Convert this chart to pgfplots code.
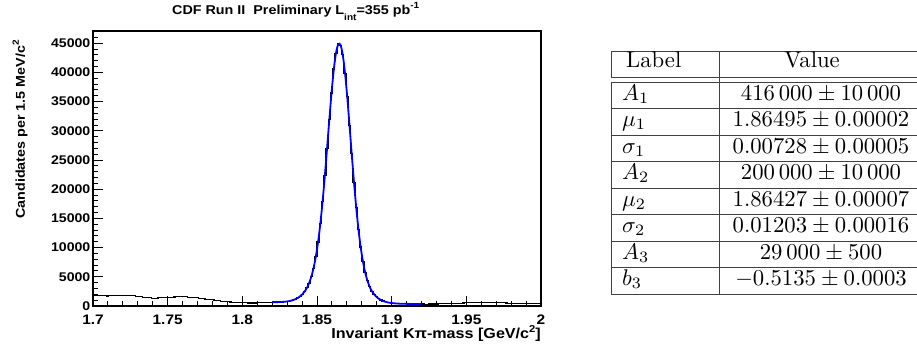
\documentclass[border=0pt]{standalone}
\usepackage{fontspec}
\usepackage{graphicx}
\usepackage{pgfplots}
\pgfplotsset{compat=1.18}
\newfontfamily\rootfont[FakeStretch=1.12]{Liberation Sans}
\newcommand{\tickfont}{\rootfont\bfseries\fontsize{12.6}{14}\selectfont}
\newcommand{\xtickfont}{\rootfont\bfseries\fontsize{13.8}{15}\selectfont}
\newcommand{\titlefont}{\rootfont\bfseries\fontsize{12.8}{14}\selectfont}
\newcommand{\xlabfont}{\rootfont\bfseries\fontsize{14.4}{16}\selectfont}
\newcommand{\ylabfont}{\rootfont\bfseries\fontsize{12.8}{15}\selectfont}
\newcommand{\tb}[1]{\scalebox{2.27}{#1}}

\pgfplotstableread{
x y
1.7000 1780
1.7015 1760
1.7030 1770
1.7045 1750
1.7060 1740
1.7075 1730
1.7090 1720
1.7105 1740
1.7120 1760
1.7135 1790
1.7150 1810
1.7165 1830
1.7180 1850
1.7195 1860
1.7210 1870
1.7225 1850
1.7240 1820
1.7255 1780
1.7270 1730
1.7285 1680
1.7300 1620
1.7315 1560
1.7330 1500
1.7345 1450
1.7360 1410
1.7375 1380
1.7390 1360
1.7405 1350
1.7420 1360
1.7435 1380
1.7450 1400
1.7465 1430
1.7480 1460
1.7495 1490
1.7510 1510
1.7525 1530
1.7540 1540
1.7555 1560
1.7570 1570
1.7585 1580
1.7600 1570
1.7615 1560
1.7630 1530
1.7645 1500
1.7660 1460
1.7675 1420
1.7690 1380
1.7705 1340
1.7720 1290
1.7735 1240
1.7750 1190
1.7765 1140
1.7780 1090
1.7795 1040
1.7810 990
1.7825 940
1.7840 890
1.7855 840
1.7870 790
1.7885 750
1.7900 710
1.7915 680
1.7930 650
1.7945 620
1.7960 600
1.7975 580
1.7990 560
1.8005 540
1.8020 530
1.8035 520
1.8050 510
1.8065 510
1.8080 520
1.8095 530
1.8110 540
1.8125 560
1.8140 580
1.8155 600
1.8170 620
1.8185 640
1.8200 655
1.8215 672
1.8230 660
1.8245 688
1.8260 694
1.8275 735
1.8290 768
1.8305 842
1.8320 915
1.8335 1046
1.8350 1190
1.8365 1412
1.8380 1668
1.8395 2045
1.8410 2490
1.8425 3140
1.8440 3930
1.8455 5080
1.8470 6490
1.8485 8470
1.8500 10960
1.8515 14190
1.8530 17870
1.8545 22330
1.8560 26980
1.8575 31990
1.8590 36480
1.8605 40590
1.8620 43300
1.8635 44880
1.8650 44650
1.8665 43060
1.8680 39850
1.8695 35840
1.8710 30950
1.8725 26100
1.8740 21190
1.8755 16940
1.8770 13110
1.8785 10110
1.8800 7600
1.8815 5750
1.8830 4305
1.8845 3320
1.8860 2530
1.8875 1995
1.8890 1565
1.8905 1270
1.8920 1025
1.8935 862
1.8950 720
1.8965 630
1.8980 550
1.8995 502
1.9010 456
1.9025 433
1.9040 405
1.9055 395
1.9070 378
1.9085 375
1.9100 362
1.9115 361
1.9130 352
1.9145 351
1.9160 344
1.9175 343
1.9190 337
1.9205 335
1.9220 330
1.9235 330
1.9250 335
1.9265 340
1.9280 345
1.9295 350
1.9310 360
1.9325 370
1.9340 380
1.9355 390
1.9370 400
1.9385 415
1.9400 430
1.9415 445
1.9430 460
1.9445 475
1.9460 490
1.9475 510
1.9490 525
1.9505 540
1.9520 555
1.9535 570
1.9550 580
1.9565 590
1.9580 595
1.9595 600
1.9610 600
1.9625 595
1.9640 590
1.9655 580
1.9670 575
1.9685 565
1.9700 555
1.9715 545
1.9730 535
1.9745 525
1.9760 515
1.9775 505
1.9790 495
1.9805 485
1.9820 475
1.9835 465
1.9850 455
1.9865 445
1.9880 435
1.9895 425
1.9910 415
1.9925 405
1.9940 395
1.9955 385
1.9970 375
1.9985 365
2.0000 365
}\histtable

\pgfplotstableread{
x y
1.82000 660
1.82075 661
1.82225 663
1.82375 668
1.82525 680
1.82675 699
1.82825 729
1.82975 773
1.83125 835
1.83275 922
1.83425 1039
1.83575 1197
1.83725 1404
1.83875 1677
1.84025 2033
1.84175 2503
1.84325 3123
1.84475 3949
1.84625 5087
1.84775 6564
1.84925 8507
1.85075 11009
1.85225 14143
1.85375 17918
1.85525 22276
1.85675 27040
1.85825 31926
1.85975 36555
1.86125 40508
1.86275 43373
1.86425 44827
1.86575 44698
1.86725 42995
1.86875 39913
1.87025 35776
1.87175 31010
1.87325 26046
1.87475 21246
1.87625 16893
1.87775 13150
1.87925 10070
1.88075 7633
1.88225 5763
1.88375 4359
1.88525 3300
1.88675 2543
1.88825 1985
1.88975 1572
1.89125 1263
1.89275 1031
1.89425 857
1.89575 725
1.89725 626
1.89875 553
1.90025 499
1.90175 459
1.90325 430
1.90475 408
1.90625 392
1.90775 381
1.90925 372
1.91075 365
1.91225 359
1.91375 354
1.91525 350
1.91675 346
1.91825 342
1.91975 338
1.92000 337
}\fittable

\begin{document}
\begin{tikzpicture}
\useasboundingbox (0,0) rectangle (917pt,349pt);
\begin{axis}[
  at={(93pt,43pt)}, anchor=south west,
  scale only axis, width=448pt, height=275pt,
  xmin=1.7, xmax=2.0, ymin=0, ymax=47100,
  scaled y ticks=false, scaled x ticks=false,
  axis line style={line width=1.2pt},
  tick pos=left, tick align=inside,
  every tick/.style={black, line width=1pt},
  major tick length=10pt, minor tick length=5pt,
  xtick={1.7,1.75,1.8,1.85,1.9,1.95,2.0},
  xticklabels={1.7,1.75,1.8,1.85,1.9,1.95,2},
  minor xtick={1.71,1.72,1.73,1.74,1.76,1.77,1.78,1.79,1.81,1.82,1.83,1.84,1.86,1.87,1.88,1.89,1.91,1.92,1.93,1.94,1.96,1.97,1.98,1.99},
  ytick={0,5000,10000,15000,20000,25000,30000,35000,40000,45000},
  yticklabels={0,5000,10000,15000,20000,25000,30000,35000,40000,45000},
  minor ytick={1000,2000,3000,4000,6000,7000,8000,9000,11000,12000,13000,14000,16000,17000,18000,19000,21000,22000,23000,24000,26000,27000,28000,29000,31000,32000,33000,34000,36000,37000,38000,39000,41000,42000,43000,44000,46000,47000},
  xticklabel style={font=\xtickfont, inner sep=0pt, yshift=-8.5pt},
  yticklabel style={font=\tickfont, inner sep=0pt, xshift=-2.5pt},
  title={CDF Run II\ \ Preliminary L\raisebox{-6pt}{\fontsize{9}{9}\selectfont int}=355 pb\raisebox{6pt}{\fontsize{9}{9}\selectfont -1}},
  title style={font=\titlefont, at={(axis description cs:0.1763,1.04)}, anchor=base west, inner sep=0pt},
  xlabel={Invariant Kπ-mass [GeV/c\raisebox{6pt}{\fontsize{10}{10}\selectfont 2}]},
  xlabel style={font=\xlabfont, at={(axis description cs:1,-0.1164)}, anchor=base east, inner sep=0pt},
  ylabel={Candidates per 1.5 MeV/c\raisebox{6pt}{\fontsize{9}{9}\selectfont 2}},
  ylabel style={font=\ylabfont, at={(axis description cs:-0.1518,0.9673)}, anchor=base east, inner sep=0pt},
]
\addplot[black, line width=1.1pt, const plot, mark=none] table[x=x,y=y] {\histtable};
\addplot[blue, line width=1.8pt, smooth, mark=none] table[x=x,y=y] {\fittable};
\end{axis}
\begin{scope}[x=1pt, y=1pt, line width=1pt, black!75]
  \draw (611,298) -- (930,298);
  \draw (611,272) -- (930,272);
  \draw (611,298) -- (611,272);
  \draw (923,298) -- (923,272);
  \draw (611,267) -- (930,267);
  \draw (611,267) -- (611,55) -- (930,55);
  \draw (923,267) -- (923,55);
  \foreach \i in {1,...,7} \draw (611,{267-26.5*\i}) -- (930,{267-26.5*\i});
  \draw (719,298) -- (719,55);
\end{scope}
\begin{scope}[x=1pt, y=1pt, every node/.style={inner sep=0pt}]
  \node[anchor=base west] at (626,282) {\tb{Label}};
  \node[anchor=base] at (812,282) {\tb{Value}};
  \foreach \lab/\val [count=\i from 0] in {
    {$A_1$}/{$416\,000 \pm 10\,000$},
    {$\mu_1$}/{$1.86495 \pm 0.00002$},
    {$\sigma_1$}/{$0.00728 \pm 0.00005$},
    {$A_2$}/{$200\,000 \pm 10\,000$},
    {$\mu_2$}/{$1.86427 \pm 0.00007$},
    {$\sigma_2$}/{$0.01203 \pm 0.00016$},
    {$A_3$}/{$29\,000 \pm 500$},
    {$b_3$}/{$-0.5135 \pm 0.0003$}} {
    \node[anchor=base west] at (622,{249-26.5*\i}) {\tb{\lab}};
    \node[anchor=base] at (821,{249-26.5*\i}) {\tb{\val}};
  }
\end{scope}
\end{tikzpicture}
\end{document}
